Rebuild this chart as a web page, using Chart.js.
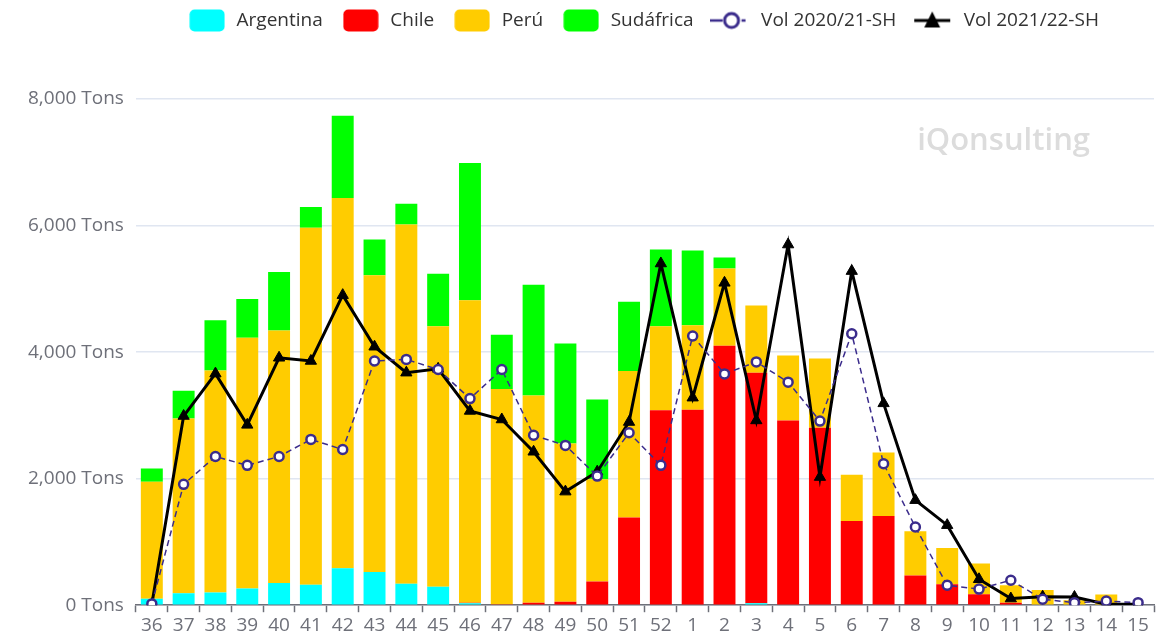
<!DOCTYPE html>
<html>
<head>
<meta charset="utf-8">
<script src="https://cdn.jsdelivr.net/npm/chart.js@4/dist/chart.umd.min.js"></script>
<style>
  html, body { margin: 0; padding: 0; background: #fff; }
  #wrap { width: 1166px; height: 639px; }
</style>
</head>
<body>
<div id="wrap"><canvas id="mainChart"></canvas></div>
<script>
// weeks of the season, 36..52 then 1..15
const weeks = ['36','37','38','39','40','41','42','43','44','45','46','47','48','49','50','51','52',
  '1','2','3','4','5','6','7','8','9','10','11','12','13','14','15'];

const argentina = [100,190,200,265,350,325,585,525,340,290,30,0,0,0,0,0,0,0,0,30,0,0,0,0,0,0,0,0,0,0,0,0];
const chile = [0,0,0,0,0,0,0,0,0,0,10,15,40,55,375,1385,3080,3090,4100,3645,2920,2805,1330,1410,470,330,175,40,0,0,0,0];
const peru = [1850,2760,3510,3960,3990,5640,5850,4690,5675,4120,4780,3400,3275,2500,1615,2315,1330,
  1335,1220,1060,1025,1095,730,1005,700,575,485,275,240,80,170,0];
const sudafrica = [210,440,795,615,925,330,1300,565,330,830,2170,860,1750,1580,1260,1095,1210,1180,175,0,0,0,0,0,0,0,0,0,0,0,0,0];

const vol2021 = [20,1910,2350,2210,2350,2620,2460,3860,3885,3725,3265,3725,2685,2525,2040,2725,2210,
  4255,3655,3845,3525,2910,4290,2235,1235,315,255,395,95,40,65,40];
const vol2122 = [15,2990,3660,2850,3910,3860,4900,4085,3675,3735,3070,2935,2425,1795,2110,2895,5400,
  3280,5095,2920,5700,2025,5280,3190,1660,1265,410,105,135,130,15,15];

const yTicks = [0, 2000, 4000, 6000, 8000];

const purple = '#3b2c8c';

// little canvases used as legend symbols
function boxIcon(color) {
  const c = document.createElement('canvas');
  c.width = 36; c.height = 23;
  const g = c.getContext('2d');
  g.fillStyle = color;
  g.beginPath();
  g.roundRect(0.5, 0.5, 35, 22, 5);
  g.fill();
  return c;
}
function lineIcon(color, marker) {
  const c = document.createElement('canvas');
  c.width = 44; c.height = 24;
  const g = c.getContext('2d');
  g.strokeStyle = color;
  if (marker === 'circle') {
    g.lineWidth = 2.5;
    g.beginPath(); g.moveTo(0, 12); g.lineTo(13, 12); g.stroke();
    g.beginPath(); g.moveTo(32, 12); g.lineTo(36, 12); g.stroke();
    g.beginPath(); g.arc(22, 12, 7, 0, Math.PI * 2);
    g.fillStyle = '#fff'; g.fill();
    g.lineWidth = 3; g.stroke();
  } else {
    g.lineWidth = 3;
    g.beginPath(); g.moveTo(2, 12); g.lineTo(38, 12); g.stroke();
    g.fillStyle = color;
    g.beginPath(); g.moveTo(20, 3); g.lineTo(28, 19); g.lineTo(12, 19); g.closePath(); g.fill();
  }
  return c;
}

const icons = [boxIcon('#00ffff'), boxIcon('#ff0000'), boxIcon('#ffcc00'), boxIcon('#00ff00'),
  lineIcon(purple, 'circle'), lineIcon('#000', 'triangle')];

const watermark = {
  id: 'watermark',
  beforeDatasetsDraw(chart) {
    const ctx = chart.ctx;
    ctx.save();
    ctx.font = '600 31px "Open Sans", sans-serif';
    ctx.fillStyle = '#dcdcdc';
    ctx.textAlign = 'right';
    ctx.textBaseline = 'middle';
    ctx.fillText('iQonsulting', 1090, 141);
    ctx.restore();
  }
};

// extra room under the legend, and the legend sits a bit right of centre
const legendTweak = {
  id: 'legendTweak',
  beforeInit(chart) {
    const lg = chart.legend;
    const fit = lg.fit;
    lg.fit = function () {
      fit.bind(lg)();
      this.height += 59;
    };
    const draw = lg.draw;
    lg.draw = function () {
      const c = this.ctx;
      c.save();
      c.translate(58, 0);
      draw.apply(lg, arguments);
      c.restore();
    };
  }
};

const ctx = document.getElementById('mainChart').getContext('2d');

const chart = new Chart(ctx, {
  data: {
    labels: weeks,
    datasets: [
      { type: 'bar', label: 'Argentina', data: argentina, backgroundColor: '#00ffff', stack: 'bars', order: 2 },
      { type: 'bar', label: 'Chile', data: chile, backgroundColor: '#ff0000', stack: 'bars', order: 2 },
      { type: 'bar', label: 'Perú', data: peru, backgroundColor: '#ffcc00', stack: 'bars', order: 2 },
      { type: 'bar', label: 'Sudáfrica', data: sudafrica, backgroundColor: '#00ff00', stack: 'bars', order: 2 },
      {
        type: 'line', label: 'Vol 2020/21-SH', data: vol2021, stack: 'v2021', order: 0,
        borderColor: purple, borderWidth: 1.5, borderDash: [6, 4],
        pointStyle: 'circle', pointRadius: 4.5, pointBorderWidth: 2.5,
        pointBackgroundColor: '#fff', pointBorderColor: purple, tension: 0
      },
      {
        type: 'line', label: 'Vol 2021/22-SH', data: vol2122, stack: 'v2122', order: 1,
        borderColor: '#000', borderWidth: 3,
        pointStyle: 'triangle', pointRadius: 6.5, pointBorderWidth: 1,
        pointBackgroundColor: '#000', pointBorderColor: '#000', tension: 0
      }
    ]
  },
  options: {
    responsive: true,
    maintainAspectRatio: false,
    animation: false,
    layout: { padding: { left: 16, right: 12, top: -7, bottom: 0 } },
    datasets: {
      bar: { barPercentage: 0.69, categoryPercentage: 1 }
    },
    plugins: {
      tooltip: { enabled: false },
      legend: {
        display: true,
        position: 'top',
        labels: {
          usePointStyle: true,
          pointStyleWidth: 40,
          padding: 18,
          color: '#333',
          font: { family: '"Open Sans", sans-serif', size: 19 },
          generateLabels(chart) {
            return chart.data.datasets.map((ds, i) => ({
              text: ds.label,
              pointStyle: icons[i],
              fillStyle: '#fff',
              strokeStyle: '#fff',
              lineWidth: 0,
              hidden: !chart.isDatasetVisible(i),
              datasetIndex: i,
              fontColor: '#333'
            }));
          }
        }
      }
    },
    scales: {
      x: {
        stacked: true,
        grid: {
          offset: true,
          drawOnChartArea: false,
          drawTicks: true,
          tickLength: 7,
          tickColor: '#6e7079',
          tickWidth: 1.5
        },
        border: { display: true, color: '#6e7079', width: 1.5 },
        ticks: {
          color: '#6e7079',
          autoSkip: false,
          maxRotation: 0,
          padding: 2,
          font: { family: '"Open Sans", sans-serif', size: 19 }
        }
      },
      y: {
        stacked: true,
        min: 0,
        max: 8000,
        afterBuildTicks(axis) {
          axis.ticks = yTicks.map(v => ({ value: v }));
        },
        grid: { color: '#e0e6f1', lineWidth: 1.5, drawTicks: false },
        border: { display: false },
        ticks: {
          color: '#6e7079',
          padding: 12,
          font: { family: '"Open Sans", sans-serif', size: 19 },
          callback: v => v.toLocaleString('en-US') + ' Tons'
        }
      }
    }
  },
  plugins: [watermark, legendTweak]
});
</script>
</body>
</html>
